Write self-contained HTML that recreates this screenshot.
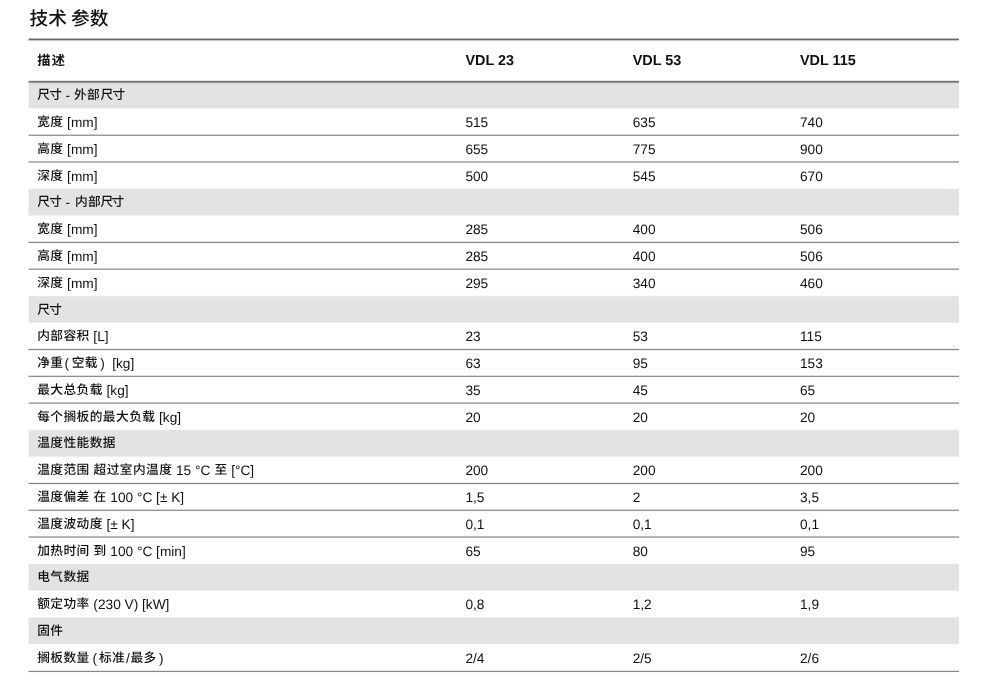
<!DOCTYPE html>
<html lang="zh-CN"><head><meta charset="utf-8"><title>技术 参数</title>
<style>
html,body{margin:0;padding:0;background:#fff;}
body{width:1000px;height:683px;overflow:hidden;position:relative;color:#111;text-rendering:geometricPrecision;
font-family:"Liberation Sans","Noto Sans CJK SC",sans-serif;}
.title{position:absolute;left:29.5px;top:6.3px;margin:0;font-size:18.7px;font-weight:500;line-height:24px;color:#111;
font-family:"Noto Sans CJK SC","Liberation Sans",sans-serif;white-space:nowrap;}
  .tx{position:absolute;left:0;top:0;width:1000px;height:683px;filter:blur(0.3px);}
.bg{position:absolute;left:28px;top:0;width:931px;height:683px;}
.bg i{position:absolute;left:0;width:931px;display:block;}
.eg{position:absolute;left:28px;top:0;width:1px;height:683px;background:rgba(255,255,255,.55);}
.r{position:absolute;left:0;width:1000px;height:21px;font-size:13.7px;}
.c{position:absolute;top:0;line-height:21px;white-space:nowrap;}
.z{font-family:"Noto Sans CJK SC",sans-serif;font-size:12.7px;letter-spacing:0.45px;position:relative;top:-0.7px;font-weight:500;padding-left:0.2px;margin-right:-0.2px;line-height:0;}
.hd{position:absolute;left:0;top:39.4px;width:1000px;height:42.2px;font-size:14.4px;font-weight:bold;}
.hd .c{line-height:42.2px;top:1px;}
.hd .z{font-size:13.2px;letter-spacing:1.4px;top:0px;font-weight:700;}
</style></head><body>
<div class="bg"><i style="top:37px;height:1px;background:#fdfdfd"></i><i style="top:38px;height:1px;background:#bababa"></i><i style="top:39px;height:1px;background:#676767"></i><i style="top:40px;height:1px;background:#c6c6c6"></i><i style="top:41px;height:1px;background:#fefefe"></i><i style="top:80px;height:1px;background:#e1e1e1"></i><i style="top:81px;height:1px;background:#717171"></i><i style="top:82px;height:1px;background:#939393"></i><i style="top:83px;height:1px;background:#dddede"></i><i style="top:84px;height:24px;background:#e2e3e3"></i><i style="top:108px;height:1px;background:#f4f4f4"></i><i style="top:134px;height:1px;background:#cfcfcf"></i><i style="top:135px;height:1px;background:#9a9a9a"></i><i style="top:136px;height:1px;background:#fefefe"></i><i style="top:161px;height:1px;background:#afafaf"></i><i style="top:162px;height:1px;background:#b9b9b9"></i><i style="top:188px;height:1px;background:#f7f8f8"></i><i style="top:189px;height:1px;background:#e3e4e4"></i><i style="top:190px;height:25px;background:#e2e3e3"></i><i style="top:215px;height:1px;background:#eff0f0"></i><i style="top:241px;height:1px;background:#e4e4e4"></i><i style="top:242px;height:1px;background:#898989"></i><i style="top:243px;height:1px;background:#fafafa"></i><i style="top:268px;height:1px;background:#c8c8c8"></i><i style="top:269px;height:1px;background:#a1a1a1"></i><i style="top:270px;height:1px;background:#fefefe"></i><i style="top:295px;height:1px;background:#fbfbfb"></i><i style="top:296px;height:1px;background:#e4e5e5"></i><i style="top:297px;height:25px;background:#e2e3e3"></i><i style="top:322px;height:1px;background:#ebecec"></i><i style="top:348px;height:1px;background:#f2f2f2"></i><i style="top:349px;height:1px;background:#828282"></i><i style="top:350px;height:1px;background:#f2f2f2"></i><i style="top:375px;height:1px;background:#dedede"></i><i style="top:376px;height:1px;background:#8d8d8d"></i><i style="top:377px;height:1px;background:#fcfcfc"></i><i style="top:402px;height:1px;background:#c0c0c0"></i><i style="top:403px;height:1px;background:#a8a8a8"></i><i style="top:429px;height:1px;background:#fafafa"></i><i style="top:430px;height:1px;background:#e3e4e4"></i><i style="top:431px;height:25px;background:#e2e3e3"></i><i style="top:456px;height:1px;background:#eceded"></i><i style="top:482px;height:1px;background:#eeeeee"></i><i style="top:483px;height:1px;background:#838383"></i><i style="top:484px;height:1px;background:#f5f5f5"></i><i style="top:509px;height:1px;background:#d7d7d7"></i><i style="top:510px;height:1px;background:#939393"></i><i style="top:511px;height:1px;background:#fdfdfd"></i><i style="top:536px;height:1px;background:#b9b9b9"></i><i style="top:537px;height:1px;background:#afafaf"></i><i style="top:563px;height:1px;background:#f9f9f9"></i><i style="top:564px;height:1px;background:#e3e4e4"></i><i style="top:565px;height:25px;background:#e2e3e3"></i><i style="top:590px;height:1px;background:#edeeee"></i><i style="top:617px;height:1px;background:#eeeeee"></i><i style="top:618px;height:25px;background:#e2e3e3"></i><i style="top:643px;height:1px;background:#e3e4e4"></i><i style="top:644px;height:1px;background:#f9f9f9"></i><i style="top:670px;height:1px;background:#e8e8e8"></i><i style="top:671px;height:1px;background:#868686"></i><i style="top:672px;height:1px;background:#f9f9f9"></i></div><div class="eg"></div>
<div class="tx">
<div class="title">技术 参数</div>
<div class="hd"><div class="c" style="left:37.0px"><span class="z">描述</span></div><div class="c" style="left:465.4px">VDL 23</div><div class="c" style="left:632.7px">VDL 53</div><div class="c" style="left:800.0px">VDL 115</div></div>
<div class="r" style="top:85px"><div class="c" style="left:37.0px"><span class="z">尺</span></div><div class="c" style="left:49.15px"><span class="z">寸</span></div><div class="c" style="left:65.5px">-</div><div class="c" style="left:73.8px"><span class="z">外部</span></div><div class="c" style="left:100.2px"><span class="z">尺</span></div><div class="c" style="left:112.3px"><span class="z">寸</span></div></div><div class="r" style="top:112px"><div class="c" style="left:37.0px"><span class="z">宽度</span> [mm]</div><div class="c" style="left:465.4px">515</div><div class="c" style="left:632.7px">635</div><div class="c" style="left:800.0px">740</div></div><div class="r" style="top:139px"><div class="c" style="left:37.0px"><span class="z">高度</span> [mm]</div><div class="c" style="left:465.4px">655</div><div class="c" style="left:632.7px">775</div><div class="c" style="left:800.0px">900</div></div><div class="r" style="top:166px"><div class="c" style="left:37.0px"><span class="z">深度</span> [mm]</div><div class="c" style="left:465.4px">500</div><div class="c" style="left:632.7px">545</div><div class="c" style="left:800.0px">670</div></div><div class="r" style="top:192px"><div class="c" style="left:37.0px"><span class="z">尺</span></div><div class="c" style="left:49.15px"><span class="z">寸</span></div><div class="c" style="left:65.5px">-</div><div class="c" style="left:74.7px"><span class="z">内部</span></div><div class="c" style="left:100.2px"><span class="z">尺</span></div><div class="c" style="left:111.3px"><span class="z">寸</span></div></div><div class="r" style="top:219px"><div class="c" style="left:37.0px"><span class="z">宽度</span> [mm]</div><div class="c" style="left:465.4px">285</div><div class="c" style="left:632.7px">400</div><div class="c" style="left:800.0px">506</div></div><div class="r" style="top:246px"><div class="c" style="left:37.0px"><span class="z">高度</span> [mm]</div><div class="c" style="left:465.4px">285</div><div class="c" style="left:632.7px">400</div><div class="c" style="left:800.0px">506</div></div><div class="r" style="top:273px"><div class="c" style="left:37.0px"><span class="z">深度</span> [mm]</div><div class="c" style="left:465.4px">295</div><div class="c" style="left:632.7px">340</div><div class="c" style="left:800.0px">460</div></div><div class="r" style="top:300px"><div class="c" style="left:37.0px"><span class="z">尺</span></div><div class="c" style="left:49.15px"><span class="z">寸</span></div></div><div class="r" style="top:326px"><div class="c" style="left:37.0px"><span class="z">内部容积</span> [L]</div><div class="c" style="left:465.4px">23</div><div class="c" style="left:632.7px">53</div><div class="c" style="left:800.0px">115</div></div><div class="r" style="top:353px"><div class="c" style="left:37.0px"><span class="z">净重</span></div><div class="c" style="left:64.4px">(</div><div class="c" style="left:71.5px"><span class="z">空载</span></div><div class="c" style="left:100.2px">)</div><div class="c" style="left:112.2px">[kg]</div><div class="c" style="left:465.4px">63</div><div class="c" style="left:632.7px">95</div><div class="c" style="left:800.0px">153</div></div><div class="r" style="top:380px"><div class="c" style="left:37.0px"><span class="z">最大总负载</span> [kg]</div><div class="c" style="left:465.4px">35</div><div class="c" style="left:632.7px">45</div><div class="c" style="left:800.0px">65</div></div><div class="r" style="top:407px"><div class="c" style="left:37.0px"><span class="z">每个搁板的最大负载</span> [kg]</div><div class="c" style="left:465.4px">20</div><div class="c" style="left:632.7px">20</div><div class="c" style="left:800.0px">20</div></div><div class="r" style="top:433px"><div class="c" style="left:37.0px"><span class="z">温度性能数据</span></div></div><div class="r" style="top:460px"><div class="c" style="left:37.0px"><span class="z">温度范围</span> <span class="z">超过室内温度</span> 15 °C <span class="z">至</span> [°C]</div><div class="c" style="left:465.4px">200</div><div class="c" style="left:632.7px">200</div><div class="c" style="left:800.0px">200</div></div><div class="r" style="top:487px"><div class="c" style="left:37.0px"><span class="z">温度偏差</span> <span class="z">在</span> 100 °C [± K]</div><div class="c" style="left:465.4px">1,5</div><div class="c" style="left:632.7px">2</div><div class="c" style="left:800.0px">3,5</div></div><div class="r" style="top:514px"><div class="c" style="left:37.0px"><span class="z">温度波动度</span> [± K]</div><div class="c" style="left:465.4px">0,1</div><div class="c" style="left:632.7px">0,1</div><div class="c" style="left:800.0px">0,1</div></div><div class="r" style="top:541px"><div class="c" style="left:37.0px"><span class="z">加热时间</span> <span class="z">到</span> 100 °C [min]</div><div class="c" style="left:465.4px">65</div><div class="c" style="left:632.7px">80</div><div class="c" style="left:800.0px">95</div></div><div class="r" style="top:567px"><div class="c" style="left:37.0px"><span class="z">电气数据</span></div></div><div class="r" style="top:594px"><div class="c" style="left:37.0px"><span class="z">额定功率</span> (230 V) [kW]</div><div class="c" style="left:465.4px">0,8</div><div class="c" style="left:632.7px">1,2</div><div class="c" style="left:800.0px">1,9</div></div><div class="r" style="top:621px"><div class="c" style="left:37.0px"><span class="z">固件</span></div></div><div class="r" style="top:648px"><div class="c" style="left:37.0px"><span class="z">搁板数量</span></div><div class="c" style="left:92.5px">(</div><div class="c" style="left:98.8px"><span class="z">标准</span></div><div class="c" style="left:125.9px">/</div><div class="c" style="left:130.3px"><span class="z">最多</span></div><div class="c" style="left:158.9px">)</div><div class="c" style="left:465.4px">2/4</div><div class="c" style="left:632.7px">2/5</div><div class="c" style="left:800.0px">2/6</div></div>
</div>
</body></html>
